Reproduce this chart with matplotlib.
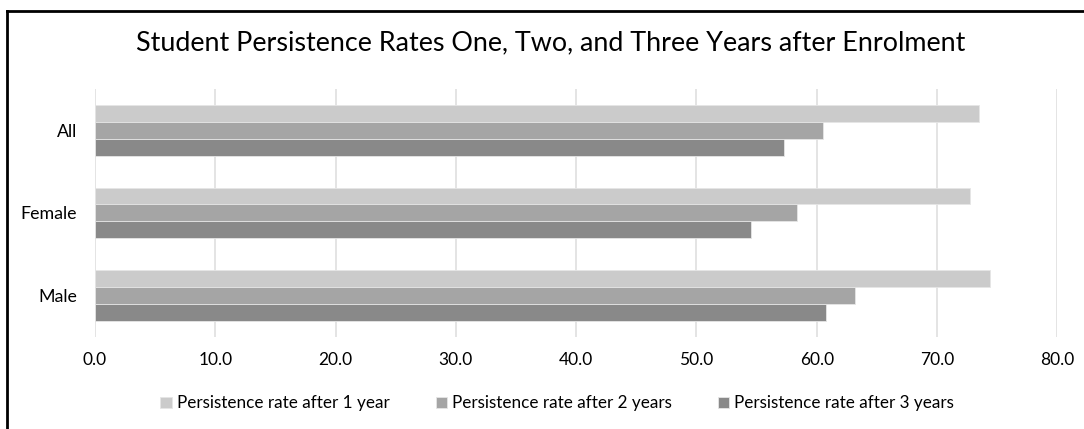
import matplotlib.pyplot as plt
import numpy as np
from matplotlib.lines import Line2D

plt.rcParams['font.family'] = ['Lato', 'DejaVu Sans']

categories = ['Male', 'Female', 'All']
series_names = ['Persistence rate after 1 year', 'Persistence rate after 2 years',
                'Persistence rate after 3 years']
year1 = [74.4, 72.7, 73.5]
year2 = [63.2, 58.4, 60.5]
year3 = [60.8, 54.5, 57.3]
colors = ['#cbcbcb', '#a5a5a5', '#898989']
xticks = np.arange(0, 81, 10)

fig = plt.figure(figsize=(10.84, 4.29), dpi=100)
ax = fig.add_axes([0.0876, 0.215, 0.8878, 0.577])

y = np.arange(len(categories))
h = 0.206
for i, vals in enumerate([year1, year2, year3]):
    ax.barh(y + h - i * h, vals, height=h, color=colors[i], edgecolor='#e6e6e6',
            linewidth=0.6, label=series_names[i], zorder=3)

ax.set_xlim(0, 80)
ax.set_ylim(-0.5, 2.5)
ax.set_xticks(xticks)
ax.set_xticklabels(['%.1f' % v for v in xticks], fontsize=12.5)
ax.set_yticks(y)
ax.set_yticklabels(categories, fontsize=12.8)
ax.tick_params(length=0, pad=11)
ax.tick_params(axis='y', pad=13)
ax.grid(axis='x', color='#dcdcdc', linewidth=1.1, zorder=0)
for s in ax.spines.values():
    s.set_visible(False)

fig.suptitle('Student Persistence Rates One, Two, and Three Years after Enrolment',
             fontsize=19.4, x=0.508, y=0.93)

leg = ax.legend(loc='center', bbox_to_anchor=(0.514, 0.06), bbox_transform=fig.transFigure,
                ncol=3, frameon=False, fontsize=12.3, handlelength=0.65, handleheight=0.65,
                handletextpad=0.3, columnspacing=2.7)

# chart frame (left and top edges visible)
fig.add_artist(Line2D([0.0065, 0.0065], [0, 0.974], color='black', linewidth=2,
                      transform=fig.transFigure))
fig.add_artist(Line2D([0.0065, 1], [0.974, 0.974], color='black', linewidth=2,
                      transform=fig.transFigure))

fig.savefig('out.png', dpi=100)
